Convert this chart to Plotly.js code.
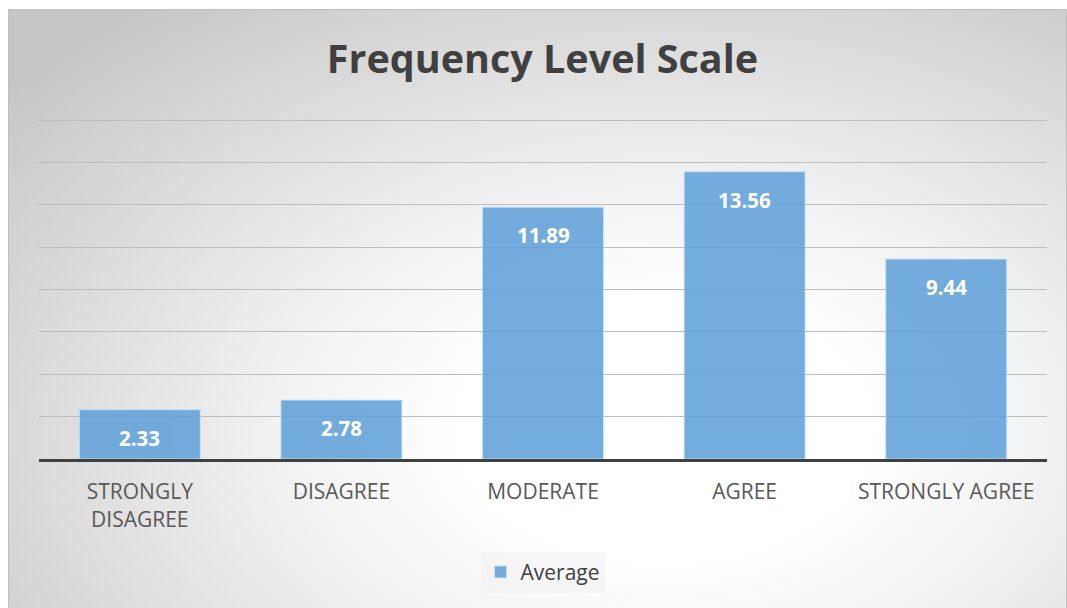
<!DOCTYPE html>
<html>
<head>
<meta charset="utf-8">
<script src="https://cdn.plot.ly/plotly-3.0.1.min.js"></script>
<style>
  html, body { margin: 0; padding: 0; background: #ffffff; width: 1067px; height: 608px; overflow: hidden; }
  #frame {
    position: absolute; left: 8px; top: 9px; width: 1057px; height: 600px;
    border: 1px solid #bfbfbf;
    background: radial-gradient(ellipse 80% 90% at 62% 70%, #ffffff 0%, #ffffff 24%, #f1f1f1 46%, #dedede 70%, #c6c6c6 100%);
  }
  #chart { width: 1057px; height: 600px; }
</style>
</head>
<body>
<div id="frame"><div id="chart"></div></div>
<script>
const categories = ["STRONGLY<br>DISAGREE", "DISAGREE", "MODERATE", "AGREE", "STRONGLY AGREE"];
const averageValues = [2.33, 2.78, 11.89, 13.56, 9.44];
const valueLabels = ["2.33", "2.78", "11.89", "13.56", "9.44"];
const seriesName = "Average";
const chartTitle = "Frequency Level Scale";

const FONT = "Open Sans, Liberation Sans, sans-serif";

const trace = {
  type: "bar",
  x: categories,
  y: averageValues,
  name: seriesName,
  marker: { color: "rgba(97,160,217,0.88)", line: { color: "rgba(200,225,245,0.9)", width: 1 } },
  hoverinfo: "skip",
  showlegend: true
};

const annotations = categories.map((c, i) => ({
  x: c, y: averageValues[i], xref: "x", yref: "y",
  text: "<b>" + valueLabels[i] + "</b>",
  showarrow: false, yanchor: "top", yshift: -12,
  font: { family: FONT, size: 20.5, color: "#ffffff" }
}));

const layout = {
  width: 1057, height: 600,
  paper_bgcolor: "rgba(0,0,0,0)",
  plot_bgcolor: "rgba(0,0,0,0)",
  margin: { l: 30, r: 19, t: 108, b: 151, pad: 0 },
  title: {
    text: "<b>" + chartTitle + "</b>",
    font: { family: FONT, size: 39.5, color: "#404040" },
    x: 0.5047, xanchor: "center", y: 0.918, yanchor: "middle"
  },
  bargap: 0.4,
  xaxis: {
    type: "category",
    showline: true, linecolor: "#404040", linewidth: 3,
    showgrid: false, ticks: "", ticklabelstandoff: 12,
    tickfont: { family: FONT, size: 21, color: "#595959" },
    fixedrange: true
  },
  yaxis: {
    range: [0, 16.1], dtick: 2, tick0: 0,
    showticklabels: false, ticks: "",
    showgrid: true, gridcolor: "#bdbdbd", gridwidth: 1,
    zeroline: false, showline: false, fixedrange: true
  },
  showlegend: true,
  legend: {
    orientation: "h", x: 0.5, xanchor: "center", y: -0.272, yanchor: "top",
    bgcolor: "rgba(235,235,235,0.35)",
    font: { family: FONT, size: 21, color: "#404040" },
    itemwidth: 30
  },
  annotations: annotations
};

Plotly.newPlot("chart", [trace], layout, { displayModeBar: false, staticPlot: true });
</script>
</body>
</html>
